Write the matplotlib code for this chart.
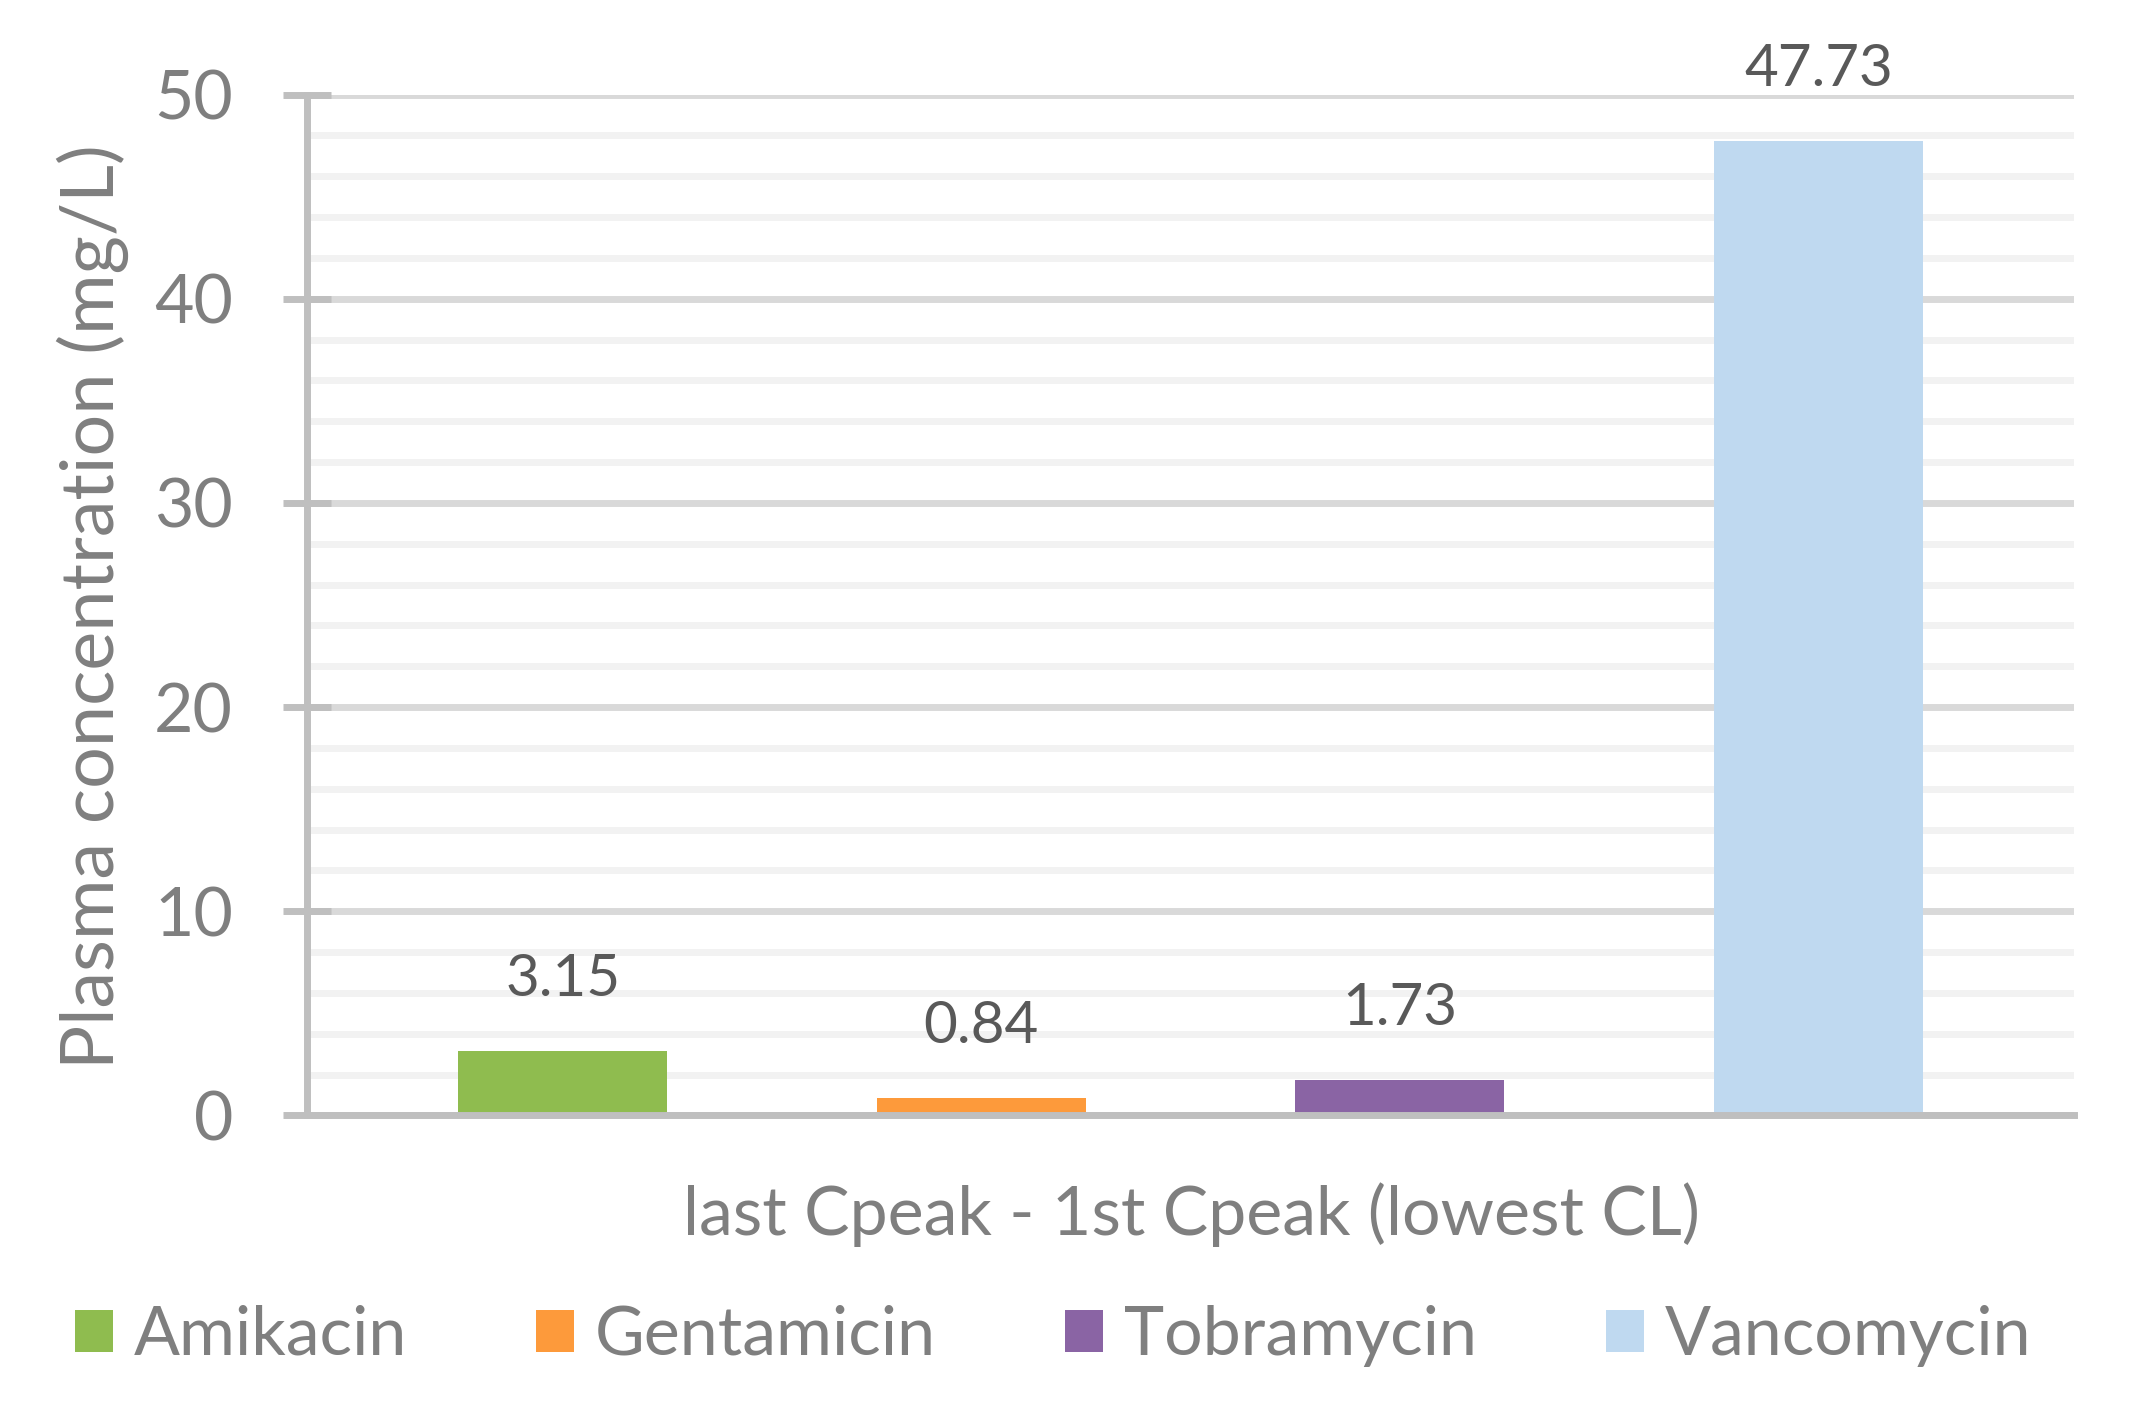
import matplotlib
matplotlib.use("Agg")
import matplotlib.pyplot as plt
from matplotlib.patches import Patch
from matplotlib.ticker import MultipleLocator

drugs = ["Amikacin", "Gentamicin", "Tobramycin", "Vancomycin"]
values = [3.15, 0.84, 1.73, 47.73]
colors = ["#8FBC4F", "#FD9A3B", "#8A64A4", "#BFD9F0"]
value_labels = ["3.15", "0.84", "1.73", "47.73"]
yticks = [0, 10, 20, 30, 40, 50]
xlabel = "last Cpeak - 1st Cpeak (lowest CL)"
ylabel = "Plasma concentration (mg/L)"

plt.rcParams['font.family'] = ['Lato', 'DejaVu Sans']

DPI = 100
fig = plt.figure(figsize=(21.41, 14.07), dpi=DPI)
ax = fig.add_axes([0.1434, 0.2072, 0.9687 - 0.1434, 0.9328 - 0.2072])

xs = list(range(len(drugs)))
bars = ax.bar(xs, values, width=0.5, color=colors, zorder=3)

for x, v, lab in zip(xs, values, value_labels):
    ax.annotate(lab, (x, v), xytext=(0, 39.6), textcoords="offset points",
                ha="center", va="baseline", fontsize=42, color="#595959", zorder=4)

ax.set_xlim(-0.611, 3.611)
ax.set_ylim(0, 50)
ax.set_yticks(yticks)
ax.yaxis.set_minor_locator(MultipleLocator(2))
ax.set_xticks([])

ax.grid(axis="y", which="major", color="#D9D9D9", linewidth=5.0, zorder=0)
ax.grid(axis="y", which="minor", color="#F2F2F2", linewidth=5.0, zorder=0)
ax.set_axisbelow(True)

for s in ["top", "right"]:
    ax.spines[s].set_visible(False)
for s in ["left", "bottom"]:
    ax.spines[s].set_color("#BFBFBF")
    ax.spines[s].set_linewidth(5.0)
    ax.spines[s].set_zorder(5)

ax.tick_params(axis="y", which="major", direction="inout", length=34.6, width=5.0,
               color="#BFBFBF", labelsize=49, labelcolor="#7F7F7F", pad=36)
ax.tick_params(axis="y", which="minor", length=0)

fig.text(114 / 2141, 0.5686, ylabel, rotation=90, rotation_mode="anchor",
         ha="center", va="baseline", fontsize=53, color="#7F7F7F")
fig.text(0.5563, 1 - 1235 / 1407, xlabel, ha="center", va="baseline",
         fontsize=49, color="#7F7F7F")

handles = [Patch(facecolor=c, edgecolor="none") for c in colors]
leg = fig.legend(handles, drugs, loc="center", bbox_to_anchor=(0.4918, 0.0505),
                 ncol=4, frameon=False, fontsize=49, handlelength=0.56,
                 handleheight=0.56, handletextpad=0.3, columnspacing=1.9)
for t in leg.get_texts():
    t.set_color("#7F7F7F")

fig.savefig("out.png", dpi=DPI)
